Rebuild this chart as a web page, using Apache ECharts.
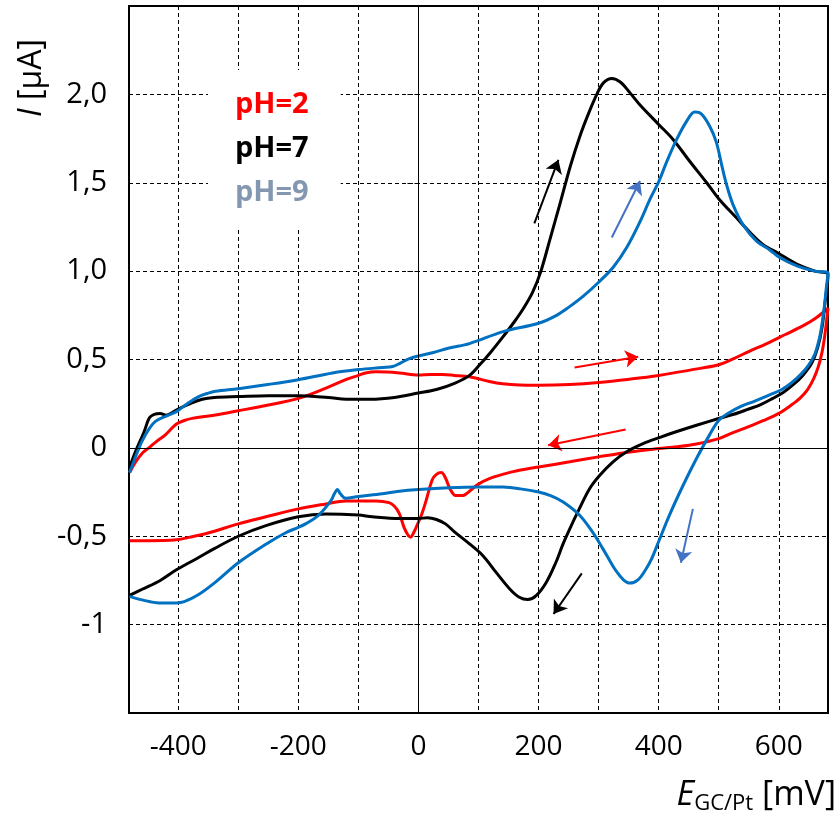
<!DOCTYPE html>
<html><head><meta charset="utf-8">
<script src="https://cdn.jsdelivr.net/npm/echarts@6/dist/echarts.min.js"></script>
<style>html,body{margin:0;padding:0;background:#fff}#c{width:838px;height:817px}</style>
</head><body><div id="c"></div>
<script>
// ---------- data ----------
const seriesNames = ['pH=2', 'pH=7', 'pH=9'];

// pH=2 (forward scan then reverse scan), E in mV, I in µA
const ph2_fwd = [[-481,-0.14],[-471,-0.08],[-460,-0.03],[-449,0.0],[-435,0.04],[-421,0.075],[-403,0.135],[-390,0.155],[-377,0.167],[-338,0.186],[-300,0.21],[-254,0.24],[-200,0.28],[-154,0.338],[-121,0.386],[-100,0.41],[-88,0.424],[-71,0.43],[-32,0.424],[0,0.412],[20,0.415],[40,0.415],[60,0.41],[85,0.402],[118,0.376],[140,0.363],[168,0.356],[200,0.355],[252,0.359],[300,0.37],[352,0.389],[400,0.41],[452,0.44],[500,0.47],[525,0.505],[550,0.545],[580,0.59],[610,0.64],[640,0.69],[660,0.73],[682,0.79]];
const ph2_rev = [[682,0.79],[679,0.70],[676,0.62],[672,0.54],[666,0.46],[658,0.39],[648,0.33],[635,0.28],[620,0.24],[600,0.195],[575,0.155],[550,0.12],[525,0.088],[500,0.052],[463,0.022],[430,0.006],[400,-0.004],[352,-0.023],[300,-0.051],[252,-0.079],[200,-0.108],[168,-0.127],[140,-0.15],[118,-0.174],[100,-0.205],[85,-0.245],[73,-0.27],[62,-0.27],[53,-0.235],[45,-0.17],[38,-0.14],[30,-0.15],[23,-0.18],[12,-0.307],[5,-0.38],[0,-0.42],[-8,-0.48],[-13,-0.505],[-18,-0.49],[-24,-0.45],[-32,-0.37],[-40,-0.33],[-49,-0.31],[-70,-0.30],[-88,-0.30],[-121,-0.30],[-154,-0.317],[-200,-0.345],[-254,-0.39],[-300,-0.43],[-349,-0.48],[-380,-0.505],[-403,-0.52],[-449,-0.525],[-481,-0.525]];

// pH=7
const ph7_fwd = [[-481,-0.11],[-471,-0.02],[-457,0.09],[-448,0.17],[-440,0.19],[-430,0.195],[-420,0.185],[-410,0.2],[-400,0.22],[-380,0.25],[-360,0.275],[-340,0.285],[-300,0.29],[-250,0.295],[-200,0.295],[-150,0.285],[-120,0.275],[-80,0.275],[-40,0.285],[0,0.31],[30,0.33],[60,0.365],[85,0.41],[102,0.47],[120,0.54],[140,0.625],[160,0.715],[175,0.79],[190,0.88],[203,0.99],[219,1.18],[236,1.385],[253,1.595],[269,1.765],[283,1.89],[297,2.0],[308,2.065],[322,2.09],[336,2.07],[352,2.01],[369,1.94],[400,1.83],[424,1.745],[452,1.62],[480,1.5],[500,1.41],[530,1.3],[552,1.22],[574,1.15],[600,1.1],[630,1.04],[660,1.0],[682,0.98]];
const ph7_rev = [[682,0.98],[677,0.82],[672,0.68],[665,0.57],[655,0.48],[640,0.41],[625,0.36],[608,0.315],[590,0.28],[570,0.245],[550,0.22],[525,0.19],[500,0.166],[463,0.128],[429,0.091],[400,0.057],[374,0.024],[346,-0.023],[324,-0.079],[302,-0.155],[285,-0.231],[268,-0.344],[252,-0.458],[240,-0.55],[229,-0.647],[213,-0.76],[196,-0.836],[182,-0.858],[168,-0.845],[152,-0.798],[129,-0.703],[107,-0.609],[85,-0.543],[60,-0.475],[45,-0.43],[30,-0.405],[15,-0.395],[0,-0.40],[-32,-0.40],[-77,-0.39],[-100,-0.38],[-154,-0.374],[-200,-0.39],[-254,-0.44],[-300,-0.50],[-340,-0.57],[-366,-0.62],[-403,-0.69],[-430,-0.75],[-460,-0.80],[-481,-0.835]];

// pH=9
const ph9_fwd = [[-481,-0.14],[-470,-0.04],[-460,0.04],[-448,0.11],[-438,0.15],[-420,0.18],[-403,0.205],[-385,0.25],[-366,0.29],[-350,0.31],[-338,0.32],[-300,0.335],[-254,0.357],[-200,0.386],[-143,0.424],[-100,0.443],[-60,0.455],[-43,0.46],[-30,0.48],[-15,0.505],[0,0.52],[25,0.54],[51,0.565],[85,0.59],[141,0.658],[200,0.705],[230,0.75],[250,0.795],[275,0.86],[301,0.94],[325,1.025],[347,1.135],[369,1.28],[386,1.41],[400,1.505],[413,1.615],[430,1.745],[447,1.85],[460,1.90],[471,1.89],[485,1.82],[496,1.73],[505,1.60],[513,1.49],[524,1.375],[541,1.26],[563,1.17],[585,1.12],[600,1.08],[630,1.03],[660,1.0],[682,0.99]];
const ph9_rev = [[682,0.99],[679,0.90],[676,0.80],[672,0.70],[667,0.61],[660,0.53],[650,0.47],[638,0.42],[622,0.37],[605,0.33],[585,0.30],[560,0.265],[537,0.235],[518,0.20],[500,0.155],[485,0.075],[463,-0.06],[441,-0.21],[418,-0.38],[400,-0.53],[388,-0.63],[379,-0.685],[366,-0.745],[352,-0.765],[341,-0.745],[330,-0.70],[324,-0.67],[307,-0.57],[290,-0.477],[268,-0.38],[241,-0.306],[220,-0.27],[200,-0.25],[170,-0.232],[141,-0.222],[100,-0.221],[51,-0.225],[0,-0.235],[-32,-0.245],[-60,-0.26],[-100,-0.275],[-121,-0.285],[-130,-0.26],[-135,-0.235],[-140,-0.26],[-146,-0.30],[-166,-0.38],[-188,-0.43],[-200,-0.45],[-221,-0.48],[-254,-0.545],[-300,-0.65],[-338,-0.76],[-366,-0.83],[-390,-0.87],[-403,-0.877],[-432,-0.877],[-460,-0.86],[-481,-0.84]];

// scan-direction arrows [tail, head]
const arrowsPH2 = [[[260,0.455],[366,0.516]], [[345,0.104],[216,0.015]]];
const arrowsPH7 = [[[193,1.27],[233,1.63]], [[272,-0.71],[225,-0.94]]];
const arrowsPH9 = [[[322,1.19],[369,1.51]], [[457,-0.345],[437,-0.65]]];

// axes
const xMin = -482, xMax = 682;
const yMin = -1.5, yMax = 2.5;
const xTickValues = [-400,-300,-200,-100,0,100,200,300,400,500,600];
const xLabelValues = [-400,-200,0,200,400,600];
const yTickValues = [-1,-0.5,0,0.5,1,1.5,2];

// ---------- chart ----------
const lineColors = ['#ff0000', '#000000', '#0070c0'];
const legendColors = ['#ff0000', '#000000', '#8497b0'];
const arrowColors = ['#ff0000', '#000000', '#4472c4'];
const FONT = '"Open Sans", sans-serif';

const chart = echarts.init(document.getElementById('c'), null, {renderer: 'canvas'});

const curveData = [ph2_fwd.concat(ph2_rev), ph7_fwd.concat(ph7_rev), ph9_fwd.concat(ph9_rev)];
const arrowSets = [arrowsPH2, arrowsPH7, arrowsPH9];

const series = [];
series.push({
  type: 'line', name: 'zero', data: [], silent: true,
  markLine: {
    silent: true, symbol: 'none', label: {show: false},
    lineStyle: {color: '#000', width: 1, type: 'solid'},
    data: [{xAxis: 0}, {yAxis: 0}]
  }
});
curveData.forEach((d, i) => {
  series.push({
    type: 'line', name: seriesNames[i], data: d, showSymbol: false, symbol: 'none',
    smooth: 0.35, lineStyle: {color: lineColors[i], width: 3}, itemStyle: {color: lineColors[i]}, z: 3
  });
});
arrowSets.forEach((set, i) => {
  series.push({
    type: 'lines', coordinateSystem: 'cartesian2d', silent: true, z: 4,
    symbol: ['none', 'arrow'], symbolSize: 13,
    lineStyle: {color: arrowColors[i], width: 2, opacity: 1},
    data: set.map(c => ({coords: c}))
  });
});

chart.setOption({
  animation: false,
  backgroundColor: '#fff',
  grid: {left: 129, right: 10, top: 6, bottom: 104, show: true, borderColor: '#000', borderWidth: 2, backgroundColor: 'transparent'},
  legend: {
    data: seriesNames.map((n, i) => ({name: n, textStyle: {color: legendColors[i]}})),
    orient: 'vertical', left: 208, top: 70, itemWidth: 0, itemHeight: 0, itemGap: 0,
    icon: 'rect', selectedMode: false, backgroundColor: '#fff',
    padding: [13, 32, 13, 22],
    textStyle: {fontFamily: FONT, fontWeight: 'bold', fontSize: 29, lineHeight: 44}
  },
  xAxis: {
    type: 'value', min: xMin, max: xMax,
    axisLine: {show: false},
    axisTick: {show: true, customValues: xTickValues, length: 12, lineStyle: {color: '#000', width: 1, type: [4, 3]}},
    axisLabel: {customValues: xLabelValues, margin: 20, color: '#000', fontFamily: FONT, fontSize: 28},
    splitLine: {show: true, lineStyle: {color: '#000', width: 1, type: [4, 3]}}
  },
  yAxis: {
    type: 'value', min: yMin, max: yMax,
    axisLine: {show: false},
    axisTick: {show: true, customValues: yTickValues, length: 12, lineStyle: {color: '#000', width: 1, type: [4, 3]}},
    axisLabel: {
      customValues: yTickValues, margin: 22, color: '#000', fontFamily: FONT, fontSize: 29,
      formatter: v => (v === 0 ? '0' : v === -1 ? '-1' : v.toFixed(1).replace('.', ','))
    },
    splitLine: {show: true, lineStyle: {color: '#000', width: 1, type: [4, 3]}}
  },
  graphic: [
    {
      type: 'text', x: 32, y: 78, rotation: Math.PI / 2,
      style: {
        text: '{i|I} [µA]', fill: '#000', fontFamily: FONT, fontSize: 32,
        align: 'center', verticalAlign: 'middle',
        rich: {i: {fontStyle: 'italic', fontFamily: FONT, fontSize: 32}}
      }
    },
    {
      type: 'text', x: 836, y: 795,
      style: {
        text: '{e|E}{s|GC/Pt}{m| [mV]}', fill: '#000', align: 'right', verticalAlign: 'middle',
        rich: {
          e: {fontStyle: 'italic', fontFamily: FONT, fontSize: 34, lineHeight: 40},
          s: {fontFamily: FONT, fontSize: 22, lineHeight: 12, verticalAlign: 'bottom'},
          m: {fontFamily: FONT, fontSize: 34, lineHeight: 40}
        }
      }
    }
  ],
  series: series
});
</script>
</body></html>
